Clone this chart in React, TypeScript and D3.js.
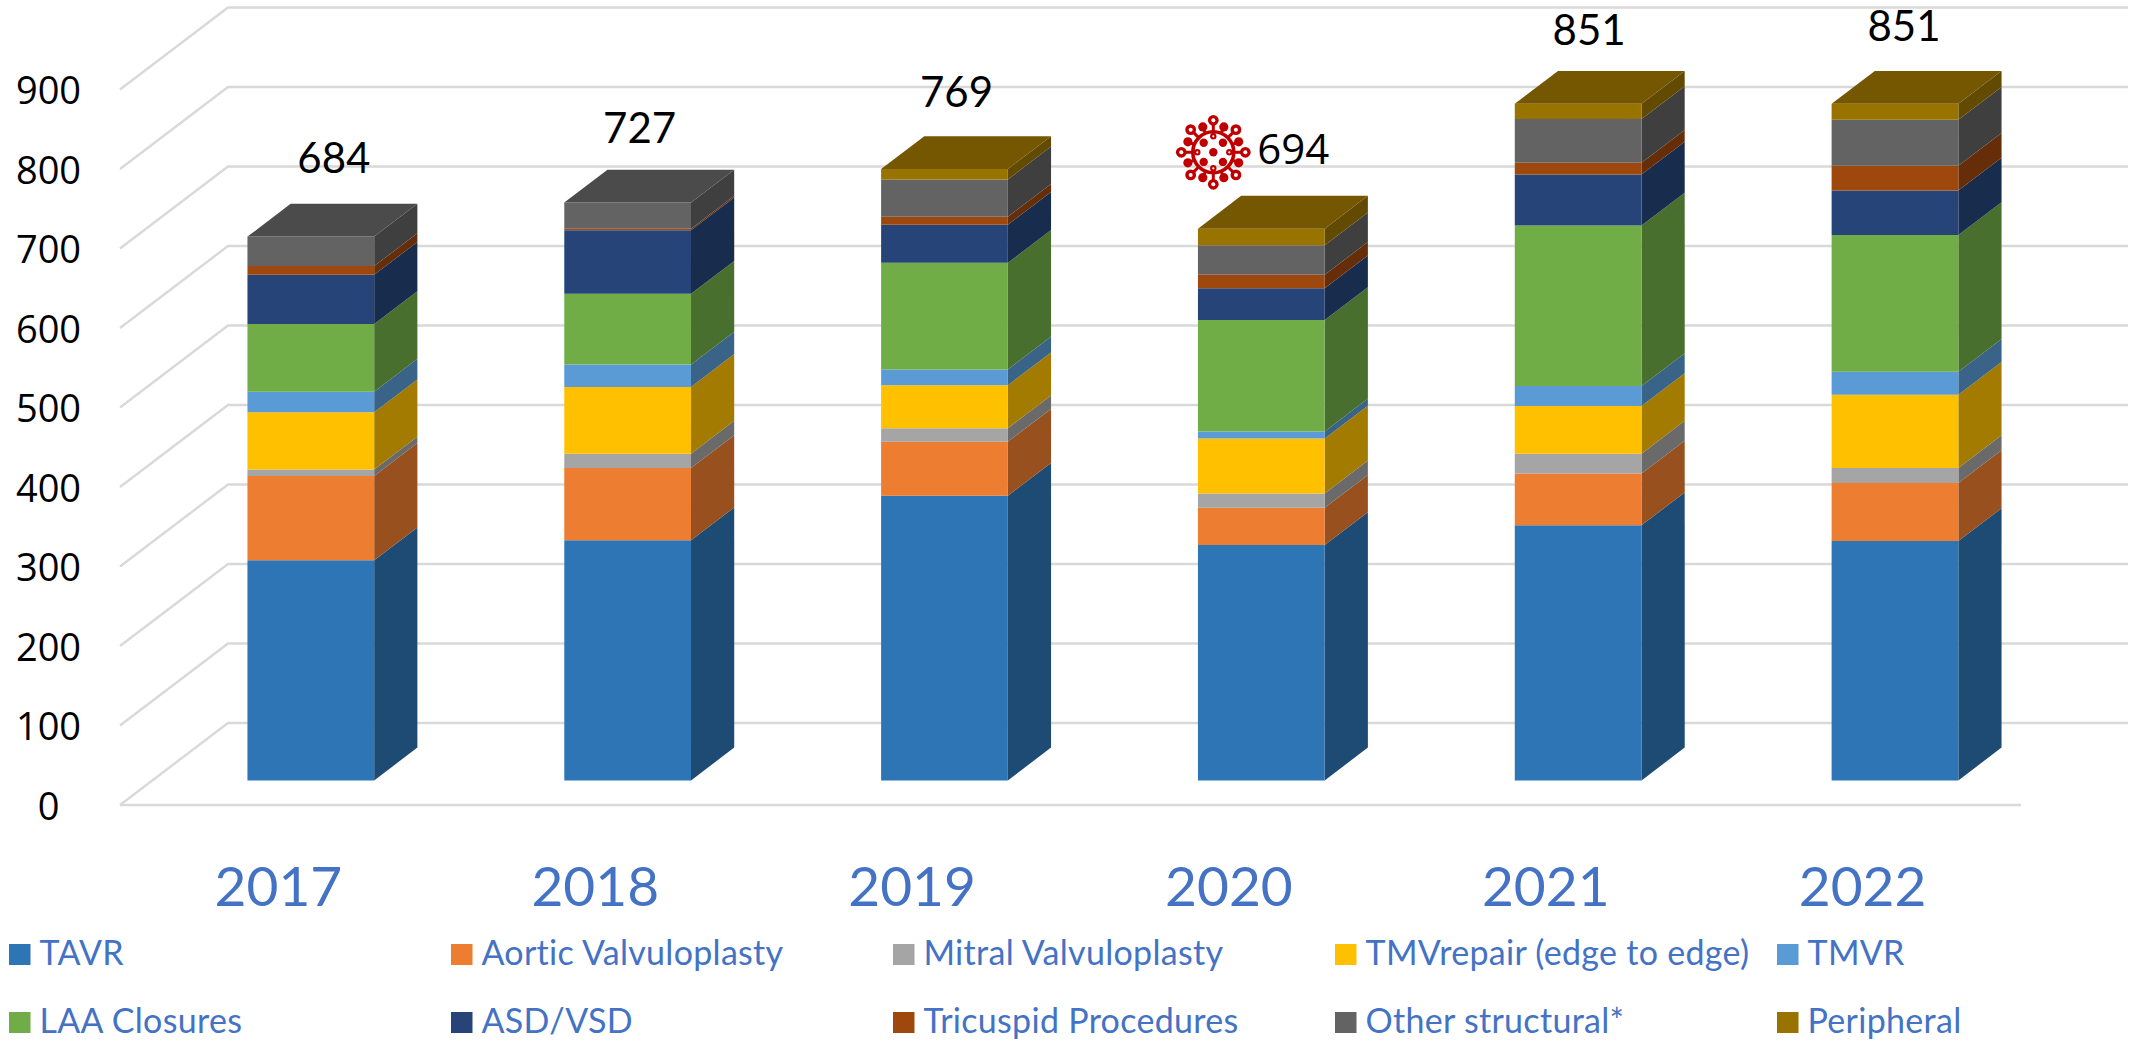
import * as d3 from 'd3';
import React, { useEffect, useRef } from 'react';

const years = ['2017', '2018', '2019', '2020', '2021', '2022'];
const yTicks = [0, 100, 200, 300, 400, 500, 600, 700, 800, 900];
const totals = [684, 727, 769, 694, 851, 851];

const seriesNames = [
  'TAVR',
  'Aortic Valvuloplasty',
  'Mitral Valvuloplasty',
  'TMVrepair (edge to edge)',
  'TMVR',
  'LAA Closures',
  'ASD/VSD',
  'Tricuspid Procedures',
  'Other structural*',
  'Peripheral',
];
const seriesColors = ['#2e75b6', '#ed7d31', '#a5a5a5', '#ffc000', '#5b9bd5', '#70ad47', '#264478', '#9e480e', '#636363', '#997300'];

const tavr = [277, 302, 358, 296, 321, 301];
const aortic = [106, 91, 68, 47, 65, 73];
const mitral = [8, 18, 17, 18, 25, 19];
const tmvRepair = [72, 84, 54, 69, 60, 92];
const tmvr = [26, 28, 20, 9, 25, 29];
const laa = [85, 89, 134, 140, 202, 172];
const asdVsd = [62, 80, 48, 40, 64, 56];
const tricuspid = [11, 2, 10, 17, 15, 31];
const otherStructural = [37, 33, 47, 37, 55, 58];
const peripheral = [0, 0, 13, 21, 19, 20];
const seriesValues = [tavr, aortic, mitral, tmvRepair, tmvr, laa, asdVsd, tricuspid, otherStructural, peripheral];

// total labels were placed by hand in the original, these are the nudges from the bar
const totalDx = [23, 12, 12, 32, 11, 9];
const totalDy = [64, 59, 62, 65, 59, 63];

const WIDTH = 2136;
const HEIGHT = 1040;
const DEPTH_X = 108;
const DEPTH_Y = 82;
const BAR_NEAR = 0.3;
const BAR_FAR = 0.7;

const App = () => {
  const container = useRef<SVGSVGElement | null>(null);

  useEffect(() => {
    if (!container.current) {
      return;
    }
    const svg = d3.select(container.current);
    svg.selectAll('*').remove();

    const x = d3.scaleBand().domain(years).range([120, 2021]).paddingInner(0.6).paddingOuter(0.3);
    const y = d3.scaleLinear().domain([0, 900]).range([805, 89.5]);
    const line = d3.line();

    const rows = years.map((year, i) => {
      const row: any = { year };
      seriesNames.forEach((name, s) => (row[name] = seriesValues[s][i]));
      return row;
    });
    const stacked = d3.stack().keys(seriesNames)(rows);

    // walls and floor
    const grid = svg.append('g').attr('fill', 'none').attr('stroke', '#d9d9d9').attr('stroke-width', 2.4);
    yTicks.forEach((t) => {
      grid
        .append('path')
        .attr('d', line([[120, y(t)], [120 + DEPTH_X, y(t) - DEPTH_Y], [2128, y(t) - DEPTH_Y]]));
    });
    grid.append('path').attr('d', line([[120, y(0)], [2021, y(0)]]));

    svg
      .append('g')
      .selectAll('text')
      .data(yTicks)
      .enter()
      .append('text')
      .attr('x', 48.5)
      .attr('y', (d) => y(d) + 14.5)
      .attr('text-anchor', 'middle')
      .attr('font-family', '"Open Sans"')
      .attr('font-size', 38)
      .attr('fill', '#000')
      .text((d) => d);

    // bars, one 3d box per segment
    const project = (px, value, depth) => [px + depth * DEPTH_X, y(value) - depth * DEPTH_Y];
    years.forEach((year, i) => {
      const left = x(year);
      const right = left + x.bandwidth();
      const g = svg.append('g');
      stacked.forEach((layer, s) => {
        const [v0, v1] = layer[i];
        if (v1 <= v0) {
          return;
        }
        const base = d3.rgb(seriesColors[s]);
        g.append('path')
          .attr('fill', d3.rgb(base.r * 0.64, base.g * 0.64, base.b * 0.64).formatHex())
          .attr('d', line([project(right, v0, BAR_NEAR), project(right, v0, BAR_FAR), project(right, v1, BAR_FAR), project(right, v1, BAR_NEAR)]) + 'Z');
        g.append('path')
          .attr('fill', seriesColors[s])
          .attr('d', line([project(left, v0, BAR_NEAR), project(right, v0, BAR_NEAR), project(right, v1, BAR_NEAR), project(left, v1, BAR_NEAR)]) + 'Z');
      });
      const topIndex = d3.max(stacked, (layer, s) => (layer[i][1] > layer[i][0] ? s : -1));
      const top = d3.rgb(seriesColors[topIndex]);
      const total = stacked[stacked.length - 1][i][1];
      g.append('path')
        .attr('fill', d3.rgb(top.r * 0.76, top.g * 0.76, top.b * 0.76).formatHex())
        .attr('d', line([project(left, total, BAR_NEAR), project(right, total, BAR_NEAR), project(right, total, BAR_FAR), project(left, total, BAR_FAR)]) + 'Z');

      // 2020 label is in a different font in the original
      const covid = year === '2020';
      svg
        .append('text')
        .attr('x', (left + right) / 2 + BAR_NEAR * DEPTH_X + totalDx[i])
        .attr('y', y(total) - BAR_NEAR * DEPTH_Y - totalDy[i])
        .attr('text-anchor', 'middle')
        .attr('font-family', covid ? '"Open Sans"' : 'Lato')
        .attr('font-size', 42)
        .attr('fill', '#000')
        .text(totals[i]);

      svg
        .append('text')
        .attr('x', left + x.bandwidth() / 2)
        .attr('y', 906)
        .attr('text-anchor', 'middle')
        .attr('font-family', 'Lato')
        .attr('font-size', 55)
        .attr('fill', '#4472c4')
        .text(year);
    });

    // virus icon next to the 2020 total
    const virus = svg.append('g').attr('transform', 'translate(1213.3,152.3)').attr('fill', '#c00000').attr('stroke', 'none');
    virus.append('circle').attr('r', 20.5).attr('fill', 'none').attr('stroke', '#c00000').attr('stroke-width', 3.6);
    d3.range(16).forEach((k) => {
      const a = (k * Math.PI) / 8;
      const long = k % 2 === 0;
      const r = long ? 32 : 27.5;
      const cx = Math.sin(a) * r;
      const cy = -Math.cos(a) * r;
      virus
        .append('line')
        .attr('x1', Math.sin(a) * 20)
        .attr('y1', -Math.cos(a) * 20)
        .attr('x2', cx)
        .attr('y2', cy)
        .attr('stroke', '#c00000')
        .attr('stroke-width', 3);
      virus.append('circle').attr('cx', cx).attr('cy', cy).attr('r', long ? 5.4 : 4.6);
      if (long) {
        virus.append('circle').attr('cx', cx).attr('cy', cy).attr('r', 2).attr('fill', '#fff');
      }
    });
    virus.append('circle').attr('r', 4.2);
    d3.range(4).forEach((k) => {
      const a = Math.PI / 4 + (k * Math.PI) / 2;
      virus.append('circle').attr('cx', Math.sin(a) * 13.6).attr('cy', Math.cos(a) * 13.6).attr('r', 4.2);
      const b = (k * Math.PI) / 2;
      virus.append('circle').attr('cx', Math.sin(b) * 16).attr('cy', Math.cos(b) * 16).attr('r', 3.2);
      virus.append('circle').attr('cx', Math.sin(b) * 16).attr('cy', Math.cos(b) * 16).attr('r', 1.1).attr('fill', '#fff');
    });

    // legend, 5 columns on 2 rows
    const legend = svg
      .append('g')
      .selectAll('g')
      .data(seriesNames)
      .enter()
      .append('g')
      .attr('transform', (d, i) => `translate(${9 + 442 * (i % 5)},${944 + 68 * Math.floor(i / 5)})`);
    legend.append('rect').attr('width', 21.5).attr('height', 21).attr('fill', (d, i) => seriesColors[i]);
    legend
      .append('text')
      .attr('x', 30.5)
      .attr('y', 21)
      .attr('font-family', 'Lato')
      .attr('font-size', 34)
      .attr('letter-spacing', 0.3)
      .attr('fill', '#4472c4')
      .text((d) => d);
  }, []);

  return (
    <svg
      ref={container}
      width={WIDTH}
      height={HEIGHT}
      style={{ position: 'absolute', left: 0, top: 0, display: 'block', background: '#fff' }}
    />
  );
};

export default App;
